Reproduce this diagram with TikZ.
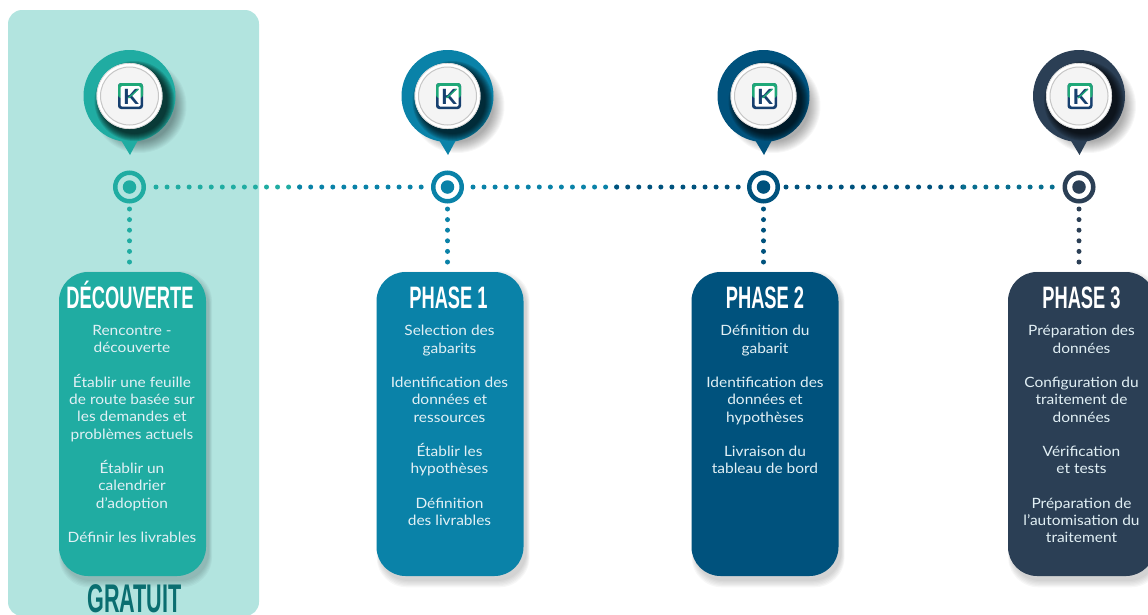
\documentclass[tikz,border=0pt]{standalone}
\usepackage{fontspec}
\usetikzlibrary{positioning,shadows}
\setmainfont[FakeStretch=1.09]{Lato}
\newfontfamily\headfont[FakeStretch=0.59]{Liberation Sans Bold}
\newfontfamily\freefont[FakeStretch=0.54]{Liberation Sans Bold}
\definecolor{phaseteal}{HTML}{20ACA2}
\definecolor{phaseblue}{HTML}{0A82A8}
\definecolor{phasenavy}{HTML}{00527D}
\definecolor{phaseslate}{HTML}{2B3F55}
\definecolor{panelteal}{HTML}{B2E4DF}
\definecolor{freegreen}{HTML}{0A6E70}
\definecolor{logogreen}{HTML}{1FA878}
\definecolor{logonavy}{HTML}{17406F}
\tikzset{
  softshadow/.style={
    general shadow={fill=black,opacity=.03,shadow xshift=3pt,shadow yshift=-5pt,shadow scale=1.04},
    general shadow={fill=black,opacity=.03,shadow xshift=3pt,shadow yshift=-5pt,shadow scale=1.032},
    general shadow={fill=black,opacity=.03,shadow xshift=3pt,shadow yshift=-5pt,shadow scale=1.024},
    general shadow={fill=black,opacity=.03,shadow xshift=3pt,shadow yshift=-5pt,shadow scale=1.016},
    general shadow={fill=black,opacity=.03,shadow xshift=3pt,shadow yshift=-5pt,shadow scale=1.008},
    general shadow={fill=black,opacity=.03,shadow xshift=3pt,shadow yshift=-5pt,shadow scale=1}},
  locpin/.pic={
    % faint cast shadow outside the pin
    \foreach \rad in {47,46,45,44,43,42,41,40,39,38,37,36}
      \fill[black,opacity=.03] (10,10) circle (\rad);
    \fill[#1] (-8.5,44) -- (0.5,59) -- (8.5,44) -- cycle;
    \fill[#1] (0,0) circle (46);
    % dark crescent on the pin
    \begin{scope}
      \clip (0,0) circle (46);
      \foreach \rad in {40,39,38,37,36,35,34,33}
        \fill[black,opacity=.12] (5,5) circle (\rad);
    \end{scope}
    % disc
    \fill[white] (0,0) circle (33);
    \draw[gray!35,line width=.6pt] (0,0) circle (32.6);
    \draw[gray!45,line width=1pt,fill=gray!9] (0,0) circle (29);
    % logo
    \fill[logonavy,rounded corners=3pt] (-11.5,-13) rectangle (13.5,13);
    \fill[logogreen,rounded corners=3pt] (-11.5,-13) rectangle (13.5,2);
    \fill[white,rounded corners=1.5pt] (-9,-10) rectangle (11,10.5);
    \node[inner sep=0pt,font=\fontsize{21}{21}\bfseries\selectfont,text=logonavy] (-logo) at (1.5,0.5) {K};
    \draw[logogreen,line width=1.3pt] (-1,2) -- (9,-7);
  },
  dotline/.style={line width=5pt,line cap=round,dash pattern=on 0pt off 11.05pt},
  dotdown/.style={line width=5pt,line cap=round,dash pattern=on 0pt off 10.6pt,shorten <=5.5pt,shorten >=5pt}
}
\begin{document}
\begin{tikzpicture}[
  x=1pt, y=-1pt,
  ringnode/.style={circle, draw, line width=4.5pt, minimum size=28.5pt, inner sep=0pt, outer sep=2.25pt},
  coredot/.style={circle, minimum size=13.5pt, inner sep=0pt},
  phasebox/.style={rectangle, rounded corners=29pt, minimum width=147pt, minimum height=304pt, inner sep=0pt, softshadow},
  phasehead/.style={inner sep=0pt, text=white, text height=21.5pt, text depth=0pt, font=\headfont\fontsize{31}{31}\selectfont},
  phasetext/.style={inner sep=0pt, align=center, text=white!88!phaseblue, font=\fontsize{14.2}{17.25}\selectfont},
  node distance=316pt
]
\useasboundingbox (0,0) rectangle (1148,614);
\clip (0,0) rectangle (1148,614);

% Panel behind the first column
\node[rectangle, fill=panelteal, rounded corners=14pt, minimum width=251pt, minimum height=606pt, inner sep=0pt] (panel) at (133.5,313) {};

% Rings on the line
\node[ringnode, draw=phaseteal] (ring1) at (129.5,187) {};
\node[ringnode, draw=phaseblue, right of=ring1, node distance=318pt] (ring2) {};
\node[ringnode, draw=phasenavy, right of=ring2] (ring3) {};
\node[ringnode, draw=phaseslate, right of=ring3, node distance=315.5pt] (ring4) {};
\node[coredot, fill=phaseteal] (core1) at (ring1) {};
\node[coredot, fill=phaseblue] (core2) at (ring2) {};
\node[coredot, fill=phasenavy] (core3) at (ring3) {};
\node[coredot, fill=phaseslate] (core4) at (ring4) {};

% Pins
\pic (pin1) at (129.5,96) {locpin={phaseteal}};
\pic (pin2) at (447.5,96) {locpin={phaseblue}};
\pic (pin3) at (763.5,96) {locpin={phasenavy}};
\pic (pin4) at (1079,96) {locpin={phaseslate}};

% Boxes
\node[phasebox, fill=phaseteal, below of=ring1, node distance=237pt, xshift=3pt] (box1) {};
\node[phasebox, fill=phaseblue, below of=ring2, node distance=237pt, xshift=2.5pt] (box2) {};
\node[phasebox, fill=phasenavy, below of=ring3, node distance=237pt, xshift=1.5pt] (box3) {};
\node[phasebox, fill=phaseslate, below of=ring4, node distance=237pt, xshift=2.5pt] (box4) {};

% Headings
\node[phasehead, below=14.5pt of box1.north, xshift=-2.5pt] (head1) {DÉCOUVERTE};
\node[phasehead, below=14.5pt of box2.north, xshift=-1.5pt] (head2) {PHASE 1};
\node[phasehead, below=14.5pt of box3.north] (head3) {PHASE 2};
\node[phasehead, below=14.5pt of box4.north] (head4) {PHASE 3};

% Box texts
\node[phasetext, below=17pt of head1, xshift=2pt] (text1) {Rencontre -\\découverte\\[17.25pt]Établir une feuille\\de route basée sur\\les demandes et\\problèmes actuels\\[17.25pt]Établir un\\calendrier\\d'adoption\\[17.25pt]Définir les livrables};
\node[phasetext, below=17pt of head2, xshift=1pt] (text2) {Selection des\\gabarits\\[17.25pt]Identification des\\données et\\ressources\\[17.25pt]Établir les\\hypothèses\\[17.25pt]Définition\\des livrables};
\node[phasetext, below=17pt of head3] (text3) {Définition du\\gabarit\\[17.25pt]Identification des\\données et\\hypothèses\\[17.25pt]Livraison du\\tableau de bord};
\node[phasetext, below=17pt of head4] (text4) {Préparation des\\données\\[17.25pt]Configuration du\\traitement de\\données\\[17.25pt]Vérification\\et tests\\[17.25pt]Préparation de\\l'automisation du\\traitement};

% Label under the first box
\node[inner sep=0pt, text=freegreen, font=\freefont\fontsize{40}{40}\selectfont] (free) at (134.5,598.5) {GRATUIT};

% Dotted line
\coordinate (split1) at (299.65,187);
\coordinate (split2) at (616.65,187);
\coordinate (split3) at (963.8,187);
\draw[dotline, phaseteal, shorten <=10pt] (ring1) -- (split1);
\draw[dotline, phaseblue, shorten >=4pt] (split1) -- (ring2);
\draw[dotline, phaseblue, shorten <=9pt] (ring2) -- (split2);
\draw[dotline, phasenavy, shorten >=4pt] (split2) -- (ring3);
\draw[dotline, phasenavy, shorten <=6pt] (ring3) -- (split3);
\draw[dotline, phaseblue!85!black, shorten >=4pt] (split3) -- (ring4);

% Drops to the boxes
\draw[dotdown, phaseteal] (ring1) -- (ring1 |- box1.north);
\draw[dotdown, phaseblue] (ring2) -- (ring2 |- box2.north);
\draw[dotdown, phasenavy] (ring3) -- (ring3 |- box3.north);
\draw[dotdown, phaseslate] (ring4) -- (ring4 |- box4.north);
\end{tikzpicture}
\end{document}
